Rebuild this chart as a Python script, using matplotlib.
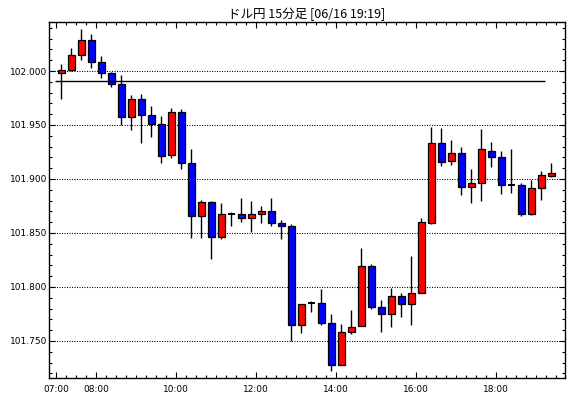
import matplotlib
matplotlib.use("Agg")
import matplotlib.pyplot as plt
from matplotlib.ticker import MultipleLocator, FixedLocator, FuncFormatter

# ---- data (15-minute candles from 07:00) ----
opens = [101.998, 102.001, 102.015, 102.029, 102.008, 101.998, 101.988, 101.957, 101.974, 101.959,
         101.951, 101.922, 101.962, 101.915, 101.866, 101.879, 101.846, 101.868, 101.868, 101.864,
         101.868, 101.870, 101.859, 101.856, 101.765, 101.785, 101.785, 101.767, 101.728, 101.758,
         101.764, 101.819, 101.781, 101.775, 101.792, 101.784, 101.794, 101.859, 101.933, 101.917,
         101.924, 101.893, 101.896, 101.926, 101.920, 101.894, 101.894, 101.868, 101.892, 101.903]
highs = [102.0065, 102.021, 102.039, 102.034, 102.014, 101.999, 101.996, 101.978, 101.979, 101.968,
         101.958, 101.966, 101.965, 101.928, 101.881, 101.880, 101.878, 101.869, 101.882, 101.880,
         101.875, 101.882, 101.862, 101.858, 101.784, 101.787, 101.798, 101.775, 101.766, 101.779,
         101.836, 101.821, 101.788, 101.799, 101.794, 101.829, 101.864, 101.948, 101.947, 101.936,
         101.930, 101.909, 101.946, 101.934, 101.926, 101.928, 101.896, 101.899, 101.907, 101.915]
lows = [101.974, 102.000, 102.010, 102.003, 101.9935, 101.985, 101.950, 101.945, 101.933, 101.939,
        101.915, 101.919, 101.909, 101.845, 101.845, 101.826, 101.844, 101.856, 101.860, 101.851,
        101.859, 101.856, 101.844, 101.750, 101.757, 101.777, 101.765, 101.722, 101.728, 101.756,
        101.764, 101.780, 101.758, 101.763, 101.772, 101.765, 101.794, 101.858, 101.912, 101.913,
        101.885, 101.878, 101.880, 101.911, 101.886, 101.887, 101.866, 101.867, 101.881, 101.9015]
closes = [102.001, 102.015, 102.029, 102.008, 101.998, 101.988, 101.957, 101.974, 101.959, 101.951,
          101.921, 101.962, 101.915, 101.866, 101.879, 101.846, 101.868, 101.868, 101.864, 101.868,
          101.870, 101.859, 101.856, 101.765, 101.784, 101.785, 101.767, 101.728, 101.758, 101.763,
          101.819, 101.781, 101.775, 101.792, 101.784, 101.794, 101.860, 101.933, 101.916, 101.924,
          101.893, 101.896, 101.928, 101.920, 101.894, 101.894, 101.868, 101.892, 101.904, 101.906]
ref_level = 101.9905
tick_labels = ["07:00", "08:00", "10:00", "12:00", "14:00", "16:00", "18:00"]
tick_hours = [7, 8, 10, 12, 14, 16, 18]
title = "ドル円 15分足 [06/16 19:19]"

UP = "#ff0000"
DOWN = "#0000ff"

fig = plt.figure(figsize=(5.70, 3.98), dpi=100)
ax = fig.add_axes([49.3 / 570, 1 - 378 / 398, (565.3 - 49.3) / 570, (378 - 22.3) / 398])

n = len(opens)
xs = list(range(n))

# gridlines
for g in [101.75, 101.80, 101.85, 101.90, 101.95, 102.00]:
    ax.axhline(g, color="black", lw=0.75, linestyle=(0, (1, 1.4)), zorder=1)

for x, o, h, l, c in zip(xs, opens, highs, lows, closes):
    ax.vlines(x, l, h, color="black", lw=1.0, zorder=2)
    if abs(c - o) < 1e-9:
        ax.hlines(o, x - 0.35, x + 0.35, color="black", lw=1.4, zorder=3)
    else:
        col = UP if c > o else DOWN
        ax.bar(x, c - o, bottom=o, width=0.7, color=col, edgecolor="black",
               linewidth=0.9, zorder=3)

ax.hlines(ref_level, -0.6, 48.4, color="black", lw=1.0, zorder=4)

ax.set_xlim(-1.17, 50.43)
ax.set_ylim(101.7157, 102.0451)

major_x = [(hh - 7) * 4 - 0.5 for hh in tick_hours]
ax.xaxis.set_major_locator(FixedLocator(major_x))
ax.set_xticklabels(tick_labels)
ax.xaxis.set_minor_locator(FixedLocator([k - 0.5 for k in range(0, 52)]))

ax.yaxis.set_major_locator(MultipleLocator(0.05))
ax.yaxis.set_minor_locator(MultipleLocator(0.01))
ax.yaxis.set_major_formatter(FuncFormatter(lambda v, p: f"{v:.3f}"))

ax.tick_params(which="both", direction="in", top=True, right=True, color="black",
               labelsize=6.5, width=0.8)
ax.tick_params(which="major", length=4.5)
ax.tick_params(which="minor", length=2.2)
ax.tick_params(axis="x", pad=5)
ax.tick_params(axis="y", pad=1.5)
for lab in ax.get_xticklabels() + ax.get_yticklabels():
    lab.set_family("DejaVu Sans")

for sp in ax.spines.values():
    sp.set_linewidth(1.0)
    sp.set_color("black")

fig.text(307 / 570, 1 - 14 / 398, title, ha="center", va="center", fontsize=9,
         family=["Noto Sans CJK JP", "DejaVu Sans"])

fig.savefig("out.png", dpi=100)
